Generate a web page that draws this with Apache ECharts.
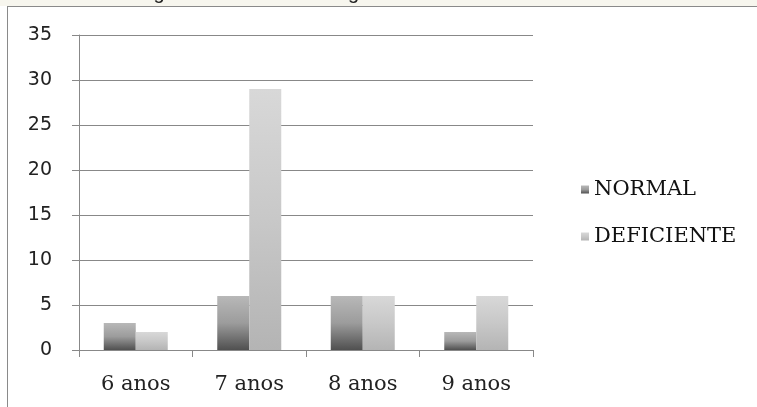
<!DOCTYPE html>
<html>
<head>
<meta charset="utf-8">
<script src="https://cdn.jsdelivr.net/npm/echarts@6/dist/echarts.min.js"></script>
<style>
  html, body { margin: 0; padding: 0; background: #fff; }
  #chart { width: 757px; height: 407px; }
</style>
</head>
<body>
<div id="chart"></div>
<script>
// dados do gráfico
var categorias = ['6 anos', '7 anos', '8 anos', '9 anos'];
var normal = [3, 6, 6, 2];
var deficiente = [2, 29, 6, 6];
var yTicks = { min: 0, max: 35, interval: 5 };
var tituloCortado = 'Gráfico 1 – Diagnóstico do estado cognitivo de acordo com a faixa etária';

var myChart = echarts.init(document.getElementById('chart'));

// gradiente vertical dos bar (escuro embaixo)
function grad(top, mid, bottom) {
  return new echarts.graphic.LinearGradient(0, 0, 0, 1, [
    { offset: 0, color: top },
    { offset: 0.5, color: mid },
    { offset: 1, color: bottom }
  ]);
}

var option = {
  animation: false,
  backgroundColor: '#fff',
  graphic: [
    // faixa do título cortado em cima
    { type: 'rect', shape: { x: 0, y: 0, width: 757, height: 6 }, style: { fill: '#f7f6ee' }, z: 0 },
    { type: 'text', x: 20, y: -17, style: { text: tituloCortado, font: '20px "Liberation Sans"', fill: '#222' }, z: 1 },
    { type: 'line', shape: { x1: 7, y1: 6.5, x2: 757, y2: 6.5 }, style: { stroke: '#8a8a8a', lineWidth: 1 }, z: 2 },
    { type: 'line', shape: { x1: 7.5, y1: 6, x2: 7.5, y2: 407 }, style: { stroke: '#8a8a8a', lineWidth: 1 }, z: 2 }
  ],
  grid: { left: 79, right: 224, top: 35, bottom: 57 },
  legend: {
    orient: 'vertical',
    left: 576,
    top: 174,
    itemWidth: 8,
    itemHeight: 8,
    itemGap: 26,
    icon: 'rect',
    textStyle: { fontFamily: 'DejaVu Serif', fontSize: 21, color: '#111' },
    data: ['NORMAL', 'DEFICIENTE']
  },
  xAxis: {
    type: 'category',
    data: categorias,
    axisLine: { lineStyle: { color: '#888' } },
    axisTick: { show: true, length: 7, lineStyle: { color: '#888' } },
    axisLabel: { margin: 24, fontFamily: 'DejaVu Serif', fontSize: 21, color: '#222' }
  },
  yAxis: {
    type: 'value',
    min: yTicks.min,
    max: yTicks.max,
    interval: yTicks.interval,
    axisLine: { show: true, lineStyle: { color: '#888' } },
    axisTick: { show: true, length: 7, lineStyle: { color: '#888' } },
    axisLabel: { margin: 27, fontFamily: 'DejaVu Sans', fontSize: 19, color: '#222' },
    splitLine: { lineStyle: { color: '#888', width: 1 } }
  },
  series: [
    {
      name: 'NORMAL',
      type: 'bar',
      barWidth: 32,
      barGap: '0%',
      data: normal,
      itemStyle: { color: grad('#b8b8b8', '#9c9c9c', '#505050') }
    },
    {
      name: 'DEFICIENTE',
      type: 'bar',
      barWidth: 32,
      data: deficiente,
      itemStyle: { color: grad('#d8d8d8', '#c8c8c8', '#b4b4b4') }
    }
  ]
};

myChart.setOption(option);
</script>
</body>
</html>
